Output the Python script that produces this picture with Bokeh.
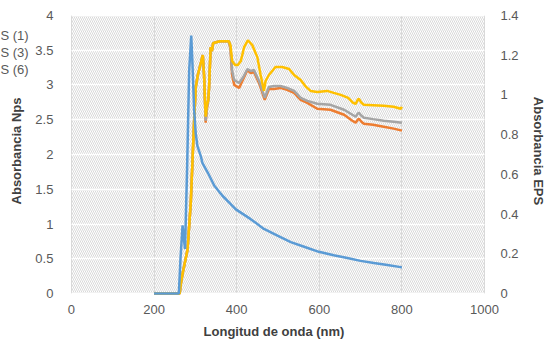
from bokeh.plotting import figure
from bokeh.models import (Range1d, LinearAxis, FixedTicker, NumeralTickFormatter,
                          BoxAnnotation, Label)
from bokeh.embed import file_html
from bokeh.resources import INLINE

# ---- data ----
nps_x = [200, 230, 260, 264, 269, 272, 275, 280, 285, 290, 293, 297, 301, 305, 313, 317,
         330, 346, 365, 385, 398, 434, 466, 500, 531, 565, 599, 635, 668, 700, 732, 765, 797, 800]
nps_y = [0, 0, 0, 0.5, 0.98, 0.80, 0.64, 1.8, 3.2, 3.71, 3.3, 2.64, 2.3, 2.12, 1.98, 1.88,
         1.74, 1.55, 1.41, 1.29, 1.21, 1.07, 0.93, 0.83, 0.74, 0.67, 0.60, 0.55, 0.51, 0.47, 0.44, 0.41, 0.38, 0.38]

eps6_x = [200, 262, 265, 270, 281, 289, 297, 301, 306, 312, 318, 321, 325, 328, 331, 333, 337,
          340, 343, 350, 360, 370, 381, 385, 389, 396, 403, 410, 418, 427, 438, 450, 458, 466,
          470, 478, 494, 510, 527, 539, 555, 568, 579, 595, 619, 635, 652, 670, 682, 688, 693,
          696, 702, 708, 730, 756, 780, 797, 800]
eps6_y = [0, 0, 0.05, 0.11, 0.22, 0.46, 0.87, 1.04, 1.10, 1.15, 1.20, 1.10, 0.89, 0.95, 0.97,
          1.03, 1.24, 1.22, 1.26, 1.265, 1.27, 1.27, 1.27, 1.25, 1.17, 1.15, 1.15, 1.17, 1.24,
          1.275, 1.25, 1.19, 1.10, 1.02, 1.07, 1.10, 1.14, 1.14, 1.13, 1.10, 1.075, 1.04, 1.02,
          1.015, 1.02, 1.01, 1.0, 0.985, 0.96, 0.955, 0.975, 0.98, 0.96, 0.95, 0.948, 0.945,
          0.94, 0.93, 0.94]

eps3_x = [200, 262, 265, 270, 281, 289, 297, 301, 306, 312, 318, 321, 325, 328, 331, 333, 337,
          340, 343, 350, 360, 370, 381, 385, 389, 394, 406, 416, 426, 434, 442, 454, 468, 478,
          490, 506, 522, 539, 555, 571, 595, 627, 660, 680, 688, 693, 696, 702, 708, 730, 756,
          780, 800]
eps3_y = [0, 0, 0.05, 0.11, 0.22, 0.46, 0.87, 1.04, 1.10, 1.15, 1.20, 1.10, 0.87, 0.94, 0.97,
          1.03, 1.24, 1.22, 1.26, 1.265, 1.27, 1.27, 1.27, 1.24, 1.12, 1.075, 1.06, 1.09, 1.13,
          1.12, 1.125, 1.07, 0.985, 1.04, 1.045, 1.045, 1.035, 1.02, 0.985, 0.97, 0.955, 0.95,
          0.925, 0.90, 0.89, 0.905, 0.91, 0.895, 0.885, 0.878, 0.87, 0.865, 0.86]

eps1_x = [200, 262, 265, 270, 281, 289, 297, 301, 306, 312, 318, 321, 325, 328, 331, 333, 337,
          340, 343, 350, 360, 370, 381, 385, 389, 394, 406, 416, 426, 434, 442, 454, 468, 478,
          490, 506, 522, 539, 555, 571, 595, 627, 660, 680, 688, 693, 696, 702, 708, 730, 756,
          780, 800]
eps1_y = [0, 0, 0.05, 0.11, 0.22, 0.46, 0.87, 1.04, 1.10, 1.15, 1.20, 1.10, 0.86, 0.93, 0.97,
          1.03, 1.24, 1.22, 1.26, 1.265, 1.27, 1.27, 1.27, 1.23, 1.10, 1.05, 1.035, 1.08, 1.125,
          1.11, 1.115, 1.06, 0.975, 1.03, 1.03, 1.035, 1.025, 1.01, 0.975, 0.96, 0.93, 0.925,
          0.90, 0.87, 0.86, 0.875, 0.88, 0.865, 0.855, 0.85, 0.84, 0.83, 0.82]

x_ticks = [0, 200, 400, 600, 800, 1000]
nps_ticks = [0, 0.5, 1, 1.5, 2, 2.5, 3, 3.5, 4]
eps_ticks = [0, 0.2, 0.4, 0.6, 0.8, 1, 1.2, 1.4]
legend_labels = ["S (1)", "S (3)", "S (6)"]   # top to bottom (legend cut off at the left edge)

FONT = "Liberation Sans"
TXT = "#595959"

# The frame covers the margins too; the value axes are pinned at x = 0 and x = 1000 so that the
# margin texts (tick labels, cut-off legend text) are drawn inside the frame.
p = figure(width=547, height=341, output_backend="svg", toolbar_location=None,
           x_range=Range1d(-171.7, 1152.4), y_range=Range1d(-0.1143, 4.2143),
           min_border_left=0, min_border_right=0, min_border_top=0, min_border_bottom=38)
p.outline_line_color = None
p.background_fill_color = "white"
p.border_fill_color = "white"
p.extra_y_ranges = {"eps": Range1d(-0.04, 1.475)}

# hatched plot area
p.add_layout(BoxAnnotation(left=0, right=1000, bottom=0, top=4, fill_alpha=0,
                           line_color=None, hatch_pattern="\\", hatch_color="#d9d9d9",
                           hatch_scale=4, hatch_weight=1, level="image"))

# axes
p.xaxis.ticker = FixedTicker(ticks=x_ticks)
p.xaxis.axis_label = "Longitud de onda (nm)"
p.yaxis.fixed_location = 0
p.yaxis.ticker = FixedTicker(ticks=nps_ticks)
p.yaxis.formatter = NumeralTickFormatter(format="0.[0]")
p.yaxis.axis_label = "Absorbancia Nps"

raxis = LinearAxis(y_range_name="eps", fixed_location=1000, ticker=FixedTicker(ticks=eps_ticks),
                   formatter=NumeralTickFormatter(format="0.[0]"),
                   axis_label="Absorbancia EPS")
p.add_layout(raxis, "right")

for ax in [p.xaxis[0], p.yaxis[0], raxis]:
    ax.axis_line_color = None
    ax.major_tick_line_color = None
    ax.minor_tick_line_color = None
    ax.major_label_text_font = FONT
    ax.major_label_text_font_size = "13px"
    ax.major_label_text_color = TXT
    ax.axis_label_text_font = FONT
    ax.axis_label_text_font_size = "13px"
    ax.axis_label_text_font_style = "bold"
    ax.axis_label_text_color = "#404040"
p.xaxis.major_label_standoff = -3
p.xaxis.axis_label_standoff = 7
p.yaxis.major_label_standoff = 12
p.yaxis.axis_label_standoff = 8
raxis.major_label_standoff = 10
raxis.axis_label_standoff = 9

xg, yg = p.xgrid[0], p.ygrid[0]
xg.ticker = FixedTicker(ticks=x_ticks)
xg.grid_line_color = "#d9d9d9"
xg.grid_line_width = 1
yg.ticker = FixedTicker(ticks=nps_ticks)
yg.grid_line_color = "white"
yg.grid_line_width = 1.5
if "cross_bounds" in xg.properties():
    xg.cross_bounds = (0, 4)
    yg.cross_bounds = (0, 1000)

# series
p.line(eps1_x, eps1_y, y_range_name="eps", line_color="#ED7D31", line_width=2.5)
p.line(eps3_x, eps3_y, y_range_name="eps", line_color="#A5A5A5", line_width=2.5)
p.line(eps6_x, eps6_y, y_range_name="eps", line_color="#FFC000", line_width=2.5)
p.line(nps_x, nps_y, line_color="#5B9BD5", line_width=2.5)

# legend texts (their line samples lie outside the picture in the reference)
for i, t in enumerate(legend_labels):
    p.add_layout(Label(x=0, y=266 - 17 * i, x_units="screen", y_units="screen", text=t,
                       text_font=FONT, text_font_size="13px", text_color=TXT,
                       text_baseline="middle", text_align="left"))

html = file_html(p, INLINE)
open("out.html", "w").write(html)
